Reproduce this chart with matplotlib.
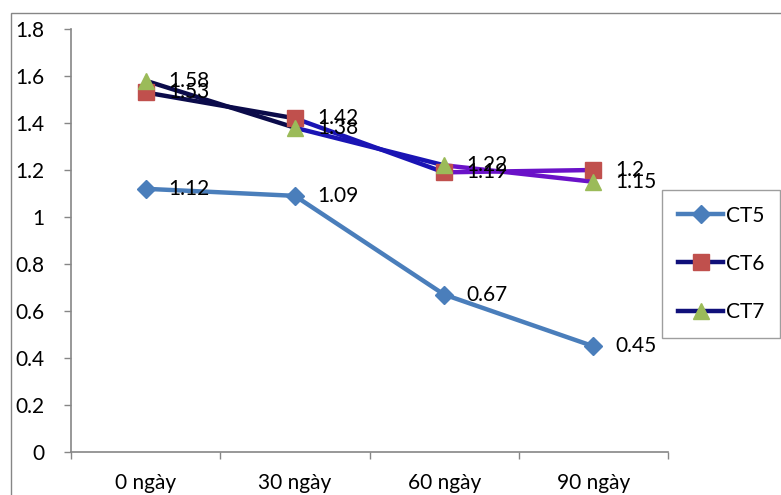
import numpy as np
import matplotlib.pyplot as plt
from matplotlib.collections import LineCollection
from matplotlib.lines import Line2D
from matplotlib.patches import Rectangle

plt.rcParams['font.family'] = ['Lato', 'DejaVu Sans']

categories = ['0 ngày', '30 ngày', '60 ngày', '90 ngày']
ct5 = [1.12, 1.09, 0.67, 0.45]
ct6 = [1.53, 1.42, 1.19, 1.2]
ct7 = [1.58, 1.38, 1.22, 1.15]
labels6 = ['1.53', '1.42', '1.19', '1.2']
labels7 = ['1.58', '1.38', '1.22', '1.15']
labels5 = ['1.12', '1.09', '0.67', '0.45']

seg_colors = ['#0b0b4a', '#1a14b4', '#6a12c8']
gray = '#868686'
fs = 15

fig = plt.figure(figsize=(7.81, 4.95), dpi=100)
fig.patches.append(Rectangle((11 / 781, -0.1), 1.2, 1 - 13 / 495 + 0.1,
                             transform=fig.transFigure, fill=False,
                             edgecolor=gray, linewidth=1.0))
ax = fig.add_axes([71 / 781, 1 - 452 / 495, (668 - 71) / 781, (452 - 29) / 495])

x = np.arange(len(categories))


def gradient_line(values):
    pts = np.column_stack([x, values])
    segs = [pts[i:i + 2] for i in range(len(pts) - 1)]
    lc = LineCollection(segs, colors=seg_colors, linewidths=3.2,
                        capstyle='round', zorder=2)
    ax.add_collection(lc)


ax.plot(x, ct5, color='#4a7ebb', linewidth=3.2, marker='D', markersize=9,
        zorder=3)
gradient_line(ct6)
gradient_line(ct7)
ax.plot(x, ct6, linestyle='none', marker='s', markersize=11,
        color='#c0504d', zorder=4)
ax.plot(x, ct7, linestyle='none', marker='^', markersize=12,
        color='#9bbb59', zorder=5)

for vals, labs in [(ct5, labels5), (ct6, labels6), (ct7, labels7)]:
    for xi, v, t in zip(x, vals, labs):
        ax.annotate(t, (xi, v), xytext=(16, 0), textcoords='offset points',
                    va='center', ha='left', fontsize=fs, color='black',
                    zorder=6)

ax.set_xlim(-0.5, 3.5)
ax.set_ylim(0, 1.8)
ax.set_yticks(np.arange(0, 1.81, 0.2))
ax.set_yticklabels(['0', '0.2', '0.4', '0.6', '0.8', '1', '1.2', '1.4', '1.6', '1.8'])
ax.set_xticks(x)
ax.set_xticklabels(categories)
ax.set_xticks(np.arange(-0.5, 3.6, 1), minor=True)
ax.tick_params(axis='x', which='major', length=0, pad=15, labelsize=fs)
ax.tick_params(axis='x', which='minor', length=5, width=1, color=gray,
               direction='out')
ax.tick_params(axis='y', length=5, width=1, color=gray, pad=14, labelsize=fs)

for s in ['top', 'right']:
    ax.spines[s].set_visible(False)
for s in ['left', 'bottom']:
    ax.spines[s].set_color(gray)
    ax.spines[s].set_linewidth(1.2)

handles = [
    Line2D([], [], color='#4a7ebb', linewidth=3.2, marker='D', markersize=9),
    Line2D([], [], color='#10107a', linewidth=3.2, marker='s', markersize=11,
           markerfacecolor='#c0504d', markeredgecolor='#c0504d'),
    Line2D([], [], color='#10107a', linewidth=3.2, marker='^', markersize=12,
           markerfacecolor='#9bbb59', markeredgecolor='#9bbb59'),
]
leg = fig.legend(handles, ['CT5', 'CT6', 'CT7'], loc='upper left',
                 bbox_to_anchor=(662 / 781, 1 - 190 / 495), fontsize=fs,
                 frameon=True, fancybox=False, handlelength=2.2,
                 labelspacing=1.35, borderpad=0.75, handletextpad=0.1,
                 borderaxespad=0)
leg.get_frame().set_edgecolor(gray)
leg.get_frame().set_linewidth(1.0)

fig.savefig('out.png', dpi=100)
